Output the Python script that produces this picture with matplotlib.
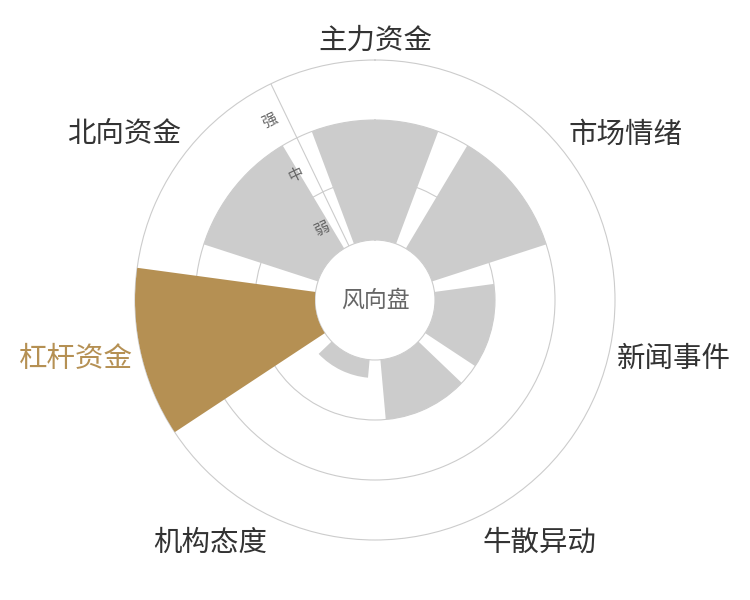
import numpy as np
import matplotlib
matplotlib.use('Agg')
import matplotlib.pyplot as plt

plt.rcParams['font.family'] = ['Noto Sans CJK SC', 'DejaVu Sans']

categories = ['主力资金', '市场情绪', '新闻事件', '牛散异动', '机构态度', '杠杆资金', '北向资金']
values = [2, 2, 1, 1, 0.3, 3, 2]
levels = ['弱', '中', '强']
highlight = '杠杆资金'
center_title = '风向盘'

GOLD = '#b59053'
GRAY = '#cccccc'
LINE = '#cccccc'

fig = plt.figure(figsize=(7.5, 6), dpi=100)
ax = fig.add_axes([0.18, 0.1, 0.64, 0.8], projection='polar')
ax.set_theta_zero_location('N')
ax.set_theta_direction(-1)

n = len(categories)
step = 2 * np.pi / n
theta = np.arange(n) * step
colors = [GOLD if c == highlight else GRAY for c in categories]
ax.bar(theta, values, width=step * 0.8, bottom=0, color=colors,
       edgecolor='none', zorder=3)

ax.set_ylim(0, len(levels))
ax.set_rorigin(-1)
ax.set_yticks(np.arange(1, len(levels)))
ax.set_yticklabels([])
ax.set_xticks([])
ax.tick_params(axis='y', length=0)
ax.xaxis.grid(False)
ax.yaxis.grid(True, color=LINE, lw=0.8)
ax.set_axisbelow(True)
for s in ax.spines.values():
    s.set_color(LINE)
    s.set_linewidth(0.8)

# radial axis line at the start boundary
a = -step / 2
ax.plot([a, a], [0, len(levels)], color=LINE, lw=0.8, zorder=2)

# radial level labels, rotated along the axis
phi = np.pi / 2 + step / 2
perp = np.array([np.cos(phi + np.pi / 2), np.sin(phi + np.pi / 2)])
along = np.array([np.cos(phi), np.sin(phi)])
off = 17 * perp - 3 * along
for i, lab in enumerate(levels):
    ax.annotate(lab, xy=(a, i + 0.5), xytext=(off[0], off[1]),
                textcoords='offset pixels', ha='center', va='center',
                rotation=np.degrees(phi) - 90, rotation_mode='anchor',
                fontsize=11, color='#666666', annotation_clip=False)

# category labels
for t, lab in zip(theta, categories):
    ph = np.pi / 2 - t
    c, s = np.cos(ph), np.sin(ph)
    ha = 'center' if abs(c) < 0.3 else ('left' if c > 0 else 'right')
    va = 'center' if abs(s) < 0.3 else ('bottom' if s > 0 else 'top')
    ax.annotate(lab, xy=(t, len(levels)), xytext=(8 * c, 8 * s - 4),
                textcoords='offset pixels', ha=ha, va=va, fontsize=20.5,
                color=GOLD if lab == highlight else '#333333',
                annotation_clip=False)

ax.text(0.5, 0.5, center_title, transform=ax.transAxes, ha='center',
        va='center', fontsize=16.5, color='#666666')

fig.savefig('out.png', dpi=100)
